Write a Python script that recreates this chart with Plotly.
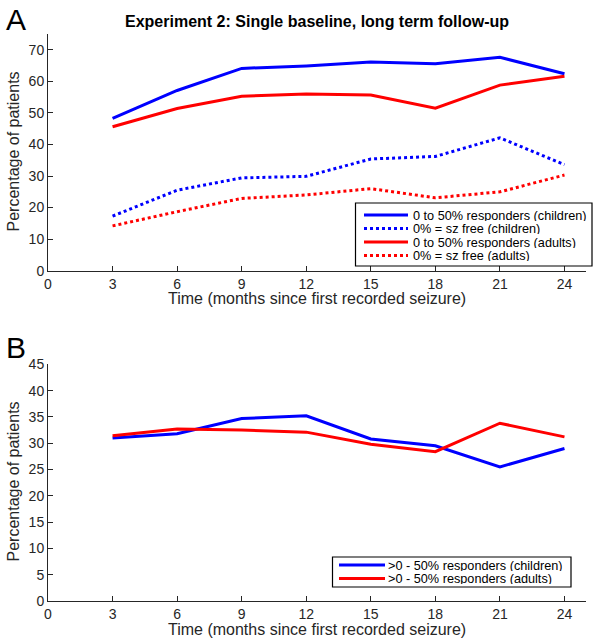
import plotly.graph_objects as go
from plotly.subplots import make_subplots

# months since first recorded seizure
months = [3, 6, 9, 12, 15, 18, 21, 24]

# panel A (percentage of patients)
resp_children = [48.3, 57.1, 64.1, 64.9, 66.1, 65.6, 67.6, 62.4]
free_children = [17.3, 25.5, 29.4, 29.9, 35.4, 36.2, 42.1, 33.6]
resp_adults = [45.6, 51.4, 55.3, 56.0, 55.7, 51.5, 58.8, 61.6]
free_adults = [14.2, 18.7, 22.9, 24.0, 26.0, 23.1, 25.0, 30.3]

# panel B
partial_children = [31.0, 31.8, 34.7, 35.2, 30.8, 29.5, 25.5, 29.0]
partial_adults = [31.4, 32.7, 32.5, 32.1, 29.8, 28.4, 33.8, 31.2]

xticks = [0, 3, 6, 9, 12, 15, 18, 21, 24]
yticks_a = [0, 10, 20, 30, 40, 50, 60, 70]
yticks_b = [0, 5, 10, 15, 20, 25, 30, 35, 40, 45]

BLUE = "#0000ff"
RED = "#ff0000"
AXC = "#262626"
FONT = "Liberation Sans, Arial, sans-serif"

W, H = 604, 643
ML, MR, MT, MB = 48, 18, 34, 42
X0, X1 = ML, W - MR
Y0, Y1 = MT, H - MB


def px(x, y):
    # page pixel position -> paper coords
    return (x - X0) / (X1 - X0), (Y1 - y) / (Y1 - Y0)


fig = make_subplots(rows=2, cols=1)

fig.add_trace(go.Scatter(x=months, y=resp_children, mode="lines", name="0 to 50% responders (children)",
                         line=dict(color=BLUE, width=3)), row=1, col=1)
fig.add_trace(go.Scatter(x=months, y=free_children, mode="lines", name="0% = sz free (children)",
                         line=dict(color=BLUE, width=3, dash="3px,3px")), row=1, col=1)
fig.add_trace(go.Scatter(x=months, y=resp_adults, mode="lines", name="0 to 50% responders (adults)",
                         line=dict(color=RED, width=3)), row=1, col=1)
fig.add_trace(go.Scatter(x=months, y=free_adults, mode="lines", name="0% = sz free (adults)",
                         line=dict(color=RED, width=3, dash="3px,3px")), row=1, col=1)

fig.add_trace(go.Scatter(x=months, y=partial_children, mode="lines", name=">0 - 50% responders (children)",
                         line=dict(color=BLUE, width=3)), row=2, col=1)
fig.add_trace(go.Scatter(x=months, y=partial_adults, mode="lines", name=">0 - 50% responders (adults)",
                         line=dict(color=RED, width=3)), row=2, col=1)

axis_common = dict(showline=True, linecolor=AXC, linewidth=1, showgrid=False, zeroline=False,
                   ticks="inside", ticklen=5, tickcolor=AXC, tickwidth=1, automargin=False,
                   tickfont=dict(family=FONT, size=14, color=AXC))

top_a = px(0, Y0)[1]
bot_a = px(0, 270.7)[1]
top_b = px(0, 364.3)[1]

fig.update_xaxes(range=[0, 25], tickvals=xticks, domain=[0, 1], **axis_common)
fig.update_yaxes(**axis_common)
fig.update_yaxes(range=[0, 75], tickvals=yticks_a, domain=[bot_a, top_a], row=1, col=1)
fig.update_yaxes(range=[0, 45], tickvals=yticks_b, domain=[0, top_b], row=2, col=1)

shapes = []
annotations = []


def text_at(x, y, text, size, angle=0, anchor="center", color=AXC, height=None):
    a, b = px(x, y)
    ann = dict(xref="paper", yref="paper", x=a, y=b, text=text, showarrow=False,
               xanchor=anchor, yanchor="middle", textangle=angle,
               font=dict(family=FONT, size=size, color=color))
    if height:
        ann["height"] = height
    annotations.append(ann)


def legend_box(box, rows, sample_x, text_x):
    x0, y0 = px(box[0], box[1])
    x1, y1 = px(box[2], box[3])
    shapes.append(dict(type="rect", xref="paper", yref="paper", x0=x0, y0=y0, x1=x1, y1=y1,
                       line=dict(color="#000000", width=1.2), fillcolor="white", layer="above"))
    for yy, color, dash, label in rows:
        a, b = px(sample_x[0], yy)
        c, _ = px(sample_x[1], yy)
        shapes.append(dict(type="line", xref="paper", yref="paper", x0=a, y0=b, x1=c, y1=b,
                           line=dict(color=color, width=3, dash=dash), layer="above"))
        text_at(text_x, yy, label, 12.7, anchor="left", color="#000000", height=11)


legend_box((355.5, 203, 592, 266),
           [(215, BLUE, "solid", "0 to 50% responders (children)"),
            (228.5, BLUE, "3px,3px", "0% = sz free (children)"),
            (242, RED, "solid", "0 to 50% responders (adults)"),
            (255.5, RED, "3px,3px", "0% = sz free (adults)")],
           (364, 408), 411)

legend_box((332.5, 557, 571, 587),
           [(565, BLUE, "solid", ">0 - 50% responders (children)"),
            (578.5, RED, "solid", ">0 - 50% responders (adults)")],
           (339, 385), 386)

# axis titles
xlabel = "Time (months since first recorded seizure)"
ylabel = "Percentage of patients"
text_at(317, 298, xlabel, 16)
text_at(317, 629, xlabel, 16)
text_at(12.5, 152, ylabel, 16, angle=-90)
text_at(12.5, 482, ylabel, 16, angle=-90)

# panel letters and title
text_at(4, 20, "A", 30, anchor="left", color="#000000")
text_at(4, 347, "B", 30, anchor="left", color="#000000")
text_at(317, 21, "<b>Experiment 2: Single baseline, long term follow-up</b>", 16, color="#000000")

fig.update_layout(width=W, height=H, margin=dict(l=ML, r=MR, t=MT, b=MB),
                  plot_bgcolor="white", paper_bgcolor="white", showlegend=False,
                  shapes=shapes, annotations=annotations)

# drop the default page margin so the figure fills the window
fig.write_html("out.html", config={"displayModeBar": False},
               post_script="document.body.style.margin = '0';")
